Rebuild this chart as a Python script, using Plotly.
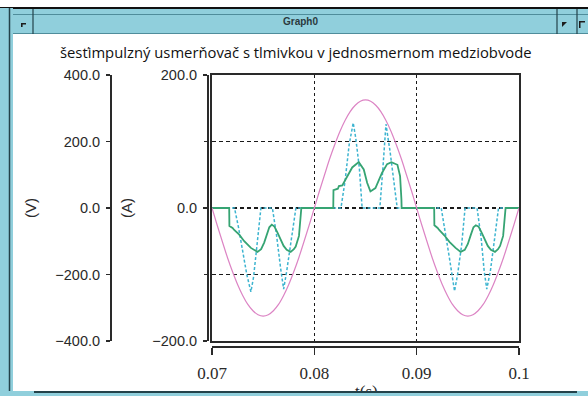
import plotly.graph_objects as go

# ---------------- data ----------------
t_volt = [0.0700, 0.0705, 0.0710, 0.0715, 0.0720, 0.0725, 0.0730, 0.0735, 0.0740, 0.0745,
          0.0750, 0.0755, 0.0760, 0.0765, 0.0770, 0.0775, 0.0780, 0.0785, 0.0790, 0.0795,
          0.0800, 0.0805, 0.0810, 0.0815, 0.0820, 0.0825, 0.0830, 0.0835, 0.0840, 0.0845,
          0.0850, 0.0855, 0.0860, 0.0865, 0.0870, 0.0875, 0.0880, 0.0885, 0.0890, 0.0895,
          0.0900, 0.0905, 0.0910, 0.0915, 0.0920, 0.0925, 0.0930, 0.0935, 0.0940, 0.0945,
          0.0950, 0.0955, 0.0960, 0.0965, 0.0970, 0.0975, 0.0980, 0.0985, 0.0990, 0.0995,
          0.1000]
v_volt = [0, -51, -100, -148, -191, -230, -263, -290, -309, -321,
          -325, -321, -309, -290, -263, -230, -191, -148, -100, -51,
          0, 51, 100, 148, 191, 230, 263, 290, 309, 321,
          325, 321, 309, 290, 263, 230, 191, 148, 100, 51,
          0, -51, -100, -148, -191, -230, -263, -290, -309, -321,
          -325, -321, -309, -290, -263, -230, -191, -148, -100, -51,
          0]

t_choke = [0.0700, 0.07168, 0.07170, 0.07201, 0.07217, 0.07266, 0.07315, 0.07380, 0.07445,
           0.07480, 0.07510, 0.07540, 0.07560, 0.07584, 0.07610, 0.07640, 0.07670, 0.07700,
           0.07730, 0.07769, 0.07800, 0.07818, 0.07850, 0.07867, 0.07873,
           0.08185, 0.08187, 0.08230, 0.08240, 0.08273, 0.08321, 0.08370, 0.08434, 0.08483,
           0.08516, 0.08548, 0.08597, 0.08662, 0.08711, 0.08753, 0.08812, 0.08838, 0.08851,
           0.08853,
           0.09171, 0.09173, 0.09205, 0.09220, 0.09270, 0.09320, 0.09380, 0.09430, 0.09470,
           0.09500, 0.09530, 0.09555, 0.09578, 0.09605, 0.09635, 0.09665, 0.09695, 0.09725,
           0.09765, 0.09795, 0.09815, 0.09845, 0.09862, 0.09869, 0.1000]
i_choke = [0, 0, -27, -30, -33, -40, -50, -60, -66,
           -62, -52, -38, -29, -25, -28, -37, -48, -57,
           -63, -66, -62, -58, -42, -17, 0,
           0, 27, 29, 33, 34, 48, 61, 69, 58,
           38, 25, 30, 53, 66, 69, 65, 48, 13,
           0,
           0, -26, -30, -33, -41, -51, -60, -66, -63,
           -54, -40, -29, -26, -28, -37, -48, -57, -63,
           -66, -62, -57, -42, -17, 0, 0]

t_nochoke = [0.0700, 0.0722, 0.0726, 0.0730, 0.0734, 0.0738, 0.07405, 0.0743, 0.0746, 0.07478,
             0.0759, 0.0763, 0.0767, 0.0770, 0.0773, 0.0777, 0.0780, 0.0782,
             0.0826, 0.0830, 0.0834, 0.0838, 0.08405, 0.0844, 0.08467,
             0.0864, 0.0867, 0.0870, 0.0874, 0.0878, 0.0881,
             0.0924, 0.0928, 0.0932, 0.0935, 0.0937, 0.0940, 0.0944, 0.09473,
             0.0959, 0.0963, 0.0966, 0.09685, 0.0972, 0.0976, 0.0980, 0.1000]
i_nochoke = [0, 0, -30, -65, -100, -126, -105, -70, -30, 0,
             0, -40, -90, -122, -95, -50, -18, 0,
             0, 40, 95, 128, 105, 60, 0,
             0, 60, 126, 85, 35, 0,
             0, -35, -75, -105, -125, -100, -55, 0,
             0, -45, -95, -122, -95, -48, 0, 0]

x_ticks = [0.07, 0.08, 0.09, 0.1]
x_tick_text = ["0.07", "0.08", "0.09", "0.1"]
a_ticks = [-200, 0, 200]
a_tick_text = ["\u2212200.0", "0.0", "200.0"]
v_ticks = [-400, -200, 0, 200, 400]
v_tick_text = ["\u2212400.0", "\u2212200.0", "0.0", "200.0", "400.0"]

title_text = "šesťimpulzný usmerňovač s tlmivkou v jednosmernom medziobvode"

# ---------------- geometry helpers ----------------
W, H = 588, 396
PL, PR, PT, PB = 110, 519, 75, 346
PW, PH = PR - PL, PB - PT


def px(x):
    return (x - PL) / PW


def py(y):
    return (PB - y) / PH


BLUE = "#90cfdc"
DARK = "#23424a"
MID = "#4f8d9b"
AX = "#2a2a2a"

fig = go.Figure()

fig.add_trace(go.Scatter(x=t_volt, y=v_volt, mode="lines", yaxis="y2",
                         line=dict(color="#dc84c4", width=1.2, shape="spline"),
                         hoverinfo="skip", showlegend=False))
fig.add_trace(go.Scatter(x=t_nochoke, y=i_nochoke, mode="lines",
                         line=dict(color="#3db4d0", width=1.5, dash="3px,2px"),
                         hoverinfo="skip", showlegend=False))
fig.add_trace(go.Scatter(x=t_choke, y=i_choke, mode="lines",
                         line=dict(color="#36a473", width=1.8),
                         hoverinfo="skip", showlegend=False))
# carrier for the offset axes (no visible mark)
fig.add_trace(go.Scatter(x=[0.07], y=[0], mode="markers", xaxis="x2", yaxis="y3",
                         marker=dict(opacity=0), hoverinfo="skip", showlegend=False))

yd0 = (PB - 341) / PH
xd0 = px(212)

shapes = []
# title bar
shapes.append(dict(type="rect", xref="paper", yref="paper", x0=px(0), x1=px(588), y0=py(34), y1=py(8),
                   fillcolor=BLUE, line=dict(width=0), layer="above"))
shapes.append(dict(type="line", xref="paper", yref="paper", x0=px(0), x1=px(588), y0=py(8), y1=py(8),
                   line=dict(color="#111111", width=2), layer="above"))
shapes.append(dict(type="line", xref="paper", yref="paper", x0=px(10), x1=px(588), y0=py(14.5), y1=py(14.5),
                   line=dict(color=MID, width=1), layer="above"))
shapes.append(dict(type="line", xref="paper", yref="paper", x0=px(10), x1=px(588), y0=py(33.5), y1=py(33.5),
                   line=dict(color=MID, width=1), layer="above"))
# left frame column
shapes.append(dict(type="rect", xref="paper", yref="paper", x0=px(0), x1=px(13), y0=py(396), y1=py(8),
                   fillcolor=BLUE, line=dict(width=0), layer="above"))
shapes.append(dict(type="line", xref="paper", yref="paper", x0=px(9.5), x1=px(9.5), y0=py(396), y1=py(8),
                   line=dict(color=DARK, width=1.5), layer="above"))
# title bar buttons
for bx in (33, 557, 577):
    shapes.append(dict(type="line", xref="paper", yref="paper", x0=px(bx), x1=px(bx), y0=py(34), y1=py(9),
                       line=dict(color=DARK, width=1.2), layer="above"))


def path_px(pts):
    return "M " + " L ".join(f"{px(a):.5f},{py(b):.5f}" for a, b in pts) + " Z"


shapes.append(dict(type="path", xref="paper", yref="paper",
                   path=path_px([(21, 23), (26, 23), (26, 24.6), (22.6, 24.6), (22.6, 27), (21, 27)]),
                   fillcolor="#1d1d1d", line=dict(width=0), layer="above"))
shapes.append(dict(type="path", xref="paper", yref="paper",
                   path=path_px([(562, 22), (567, 22), (562, 27)]),
                   fillcolor="#1d1d1d", line=dict(width=0), layer="above"))
shapes.append(dict(type="path", xref="paper", yref="paper",
                   path=path_px([(579, 21), (585, 21), (585, 22.5), (580.5, 22.5), (580.5, 28), (579, 28)]),
                   fillcolor="#1d1d1d", line=dict(width=0), layer="above"))

annotations = []
annotations.append(dict(text="Graph0", xref="paper", yref="paper", x=px(300), y=py(21.5),
                        xanchor="center", yanchor="middle", showarrow=False,
                        font=dict(family="Liberation Sans", size=10, color="#2b3a3e", weight="bold")))
annotations.append(dict(text=title_text, xref="paper", yref="paper", x=px(296), y=py(52),
                        xanchor="center", yanchor="middle", showarrow=False,
                        font=dict(family="Open Sans", size=14.8, color="#111111")))
annotations.append(dict(text="(V)", xref="paper", yref="paper", x=px(30), y=py(208),
                        xanchor="center", yanchor="middle", showarrow=False, textangle=-90,
                        font=dict(family="Liberation Sans", size=15, color=AX)))
annotations.append(dict(text="(A)", xref="paper", yref="paper", x=px(126), y=py(208),
                        xanchor="center", yanchor="middle", showarrow=False, textangle=-90,
                        font=dict(family="Liberation Sans", size=15, color=AX)))
annotations.append(dict(text="t(s)", xref="paper", yref="paper", x=px(366), y=py(380),
                        xanchor="center", yanchor="top", showarrow=False,
                        font=dict(family="Liberation Serif", size=17, color=AX)))
# bottom frame band (drawn after the cut-off axis title so it covers it)
annotations.append(dict(text=" ", xref="paper", yref="paper", x=px(0), y=py(396),
                        xanchor="left", yanchor="bottom", showarrow=False,
                        width=588, height=5, borderpad=0, borderwidth=0, bgcolor=BLUE,
                        font=dict(size=4)))
annotations.append(dict(text=" ", xref="paper", yref="paper", x=px(34), y=py(393),
                        xanchor="left", yanchor="bottom", showarrow=False,
                        width=543, height=2, borderpad=0, borderwidth=0, bgcolor=DARK,
                        font=dict(size=2)))

fig.update_layout(
    width=W, height=H,
    margin=dict(l=PL, r=W - PR, t=PT, b=H - PB, pad=0, autoexpand=False),
    paper_bgcolor="white", plot_bgcolor="white",
    showlegend=False,
    shapes=shapes, annotations=annotations,
    xaxis=dict(domain=[xd0, 1], range=[0.07, 0.1], anchor="y",
               showline=True, mirror=True, linecolor=AX, linewidth=1.6,
               tickvals=x_ticks, showticklabels=False, ticks="",
               showgrid=True, gridcolor="#1a1a1a", gridwidth=1.2, griddash="3px,3px",
               zeroline=False, fixedrange=True),
    xaxis2=dict(overlaying="x", range=[0.07, 0.1], anchor="free", position=0, side="bottom",
                showline=True, linecolor=AX, linewidth=1.6,
                tickvals=x_ticks, ticktext=x_tick_text, ticks="outside", ticklen=7,
                tickwidth=1.6, tickcolor=AX, ticklabelstandoff=4,
                tickfont=dict(family="Liberation Serif", size=17, color=AX),
                showgrid=False, zeroline=False, fixedrange=True),
    yaxis=dict(domain=[yd0, 1], range=[-200, 200], anchor="x",
               showline=True, mirror=True, linecolor=AX, linewidth=1.6,
               tickvals=[-200, -100, 0, 100, 200], showticklabels=False, ticks="",
               showgrid=True, gridcolor="#1a1a1a", gridwidth=1.2, griddash="4px,3px",
               zeroline=False, fixedrange=True),
    yaxis2=dict(overlaying="y", range=[-400, 400], anchor="free", position=0, side="left",
                showline=True, linecolor=AX, linewidth=1.6,
                tickvals=v_ticks, ticktext=v_tick_text, ticks="outside", ticklen=4,
                tickwidth=1.6, tickcolor=AX, ticklabelstandoff=3,
                tickfont=dict(family="Liberation Sans", size=14.5, color=AX),
                showgrid=False, zeroline=False, fixedrange=True),
    yaxis3=dict(overlaying="y", range=[-200, 200], anchor="free", position=px(207), side="left",
                showline=True, linecolor=AX, linewidth=1.6,
                tickvals=a_ticks, ticktext=a_tick_text, ticks="outside", ticklen=4,
                tickwidth=1.6, tickcolor=AX, ticklabelstandoff=3,
                tickfont=dict(family="Liberation Sans", size=14.5, color=AX),
                minor=dict(tickvals=[-100, 100], ticks="outside", ticklen=3, tickcolor=AX),
                showgrid=False, zeroline=False, fixedrange=True),
)

fig.write_html("out.html", config={"displayModeBar": False, "staticPlot": True},
               post_script="document.body.style.margin='0';document.body.style.padding='0';"
                           "document.documentElement.style.overflow='hidden';")
